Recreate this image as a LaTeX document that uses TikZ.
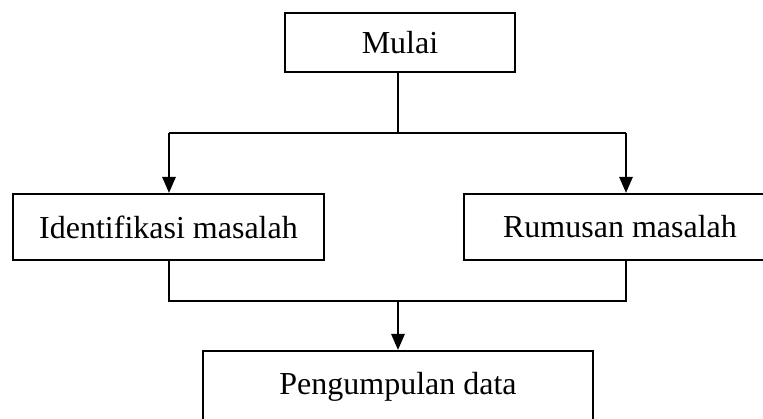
\documentclass[tikz,border=0pt]{standalone}
\usepackage{fontspec}
\setmainfont{Liberation Serif}
\usetikzlibrary{arrows.meta}

\begin{document}
\begin{tikzpicture}[x=0.375pt,y=-0.375pt,
  box/.style={draw, line width=0.85pt, inner sep=0pt, font=\fontsize{12}{14}\selectfont},
  link/.style={line width=0.8pt},
  arrowlink/.style={link, -{Triangle[length=6pt,width=5pt]}}]

% Canvas
\useasboundingbox (0,0) rectangle (763,419);
\clip (0,0) rectangle (763,419);

% Boxes
\node[box, minimum width=86.25pt, minimum height=22.1pt] (mulai) at (400,42.5) {Mulai};
\node[box, minimum width=116.6pt, minimum height=24.75pt] (identifikasi) at (168.5,227) {Identifikasi masalah};
\node[box, minimum width=117pt, minimum height=24.75pt] (rumusan) at (620,227) {Rumusan masalah};
\node[box, minimum width=146.25pt, minimum height=26.6pt] (data) at (398,386.5) {Pengumpulan data};

% Define coordinates
\coordinate (split) at (398,133);
\coordinate (splitL) at (169,133);
\coordinate (splitR) at (626,133);
\coordinate (joinL) at (169,301);
\coordinate (joinR) at (626,301);
\coordinate (join) at (398,301);

% Branch from Mulai
\draw[link] (mulai.south -| split) -- (split);
\draw[link] (splitL) -- (splitR);
\draw[arrowlink] (splitL) -- (identifikasi.north -| splitL);
\draw[arrowlink] (splitR) -- (rumusan.north -| splitR);

% Merge into Pengumpulan data
\draw[link] (identifikasi.south -| joinL) -- (joinL) -- (joinR) -- (rumusan.south -| joinR);
\draw[arrowlink] (join) -- (data.north -| join);

\end{tikzpicture}
\end{document}
